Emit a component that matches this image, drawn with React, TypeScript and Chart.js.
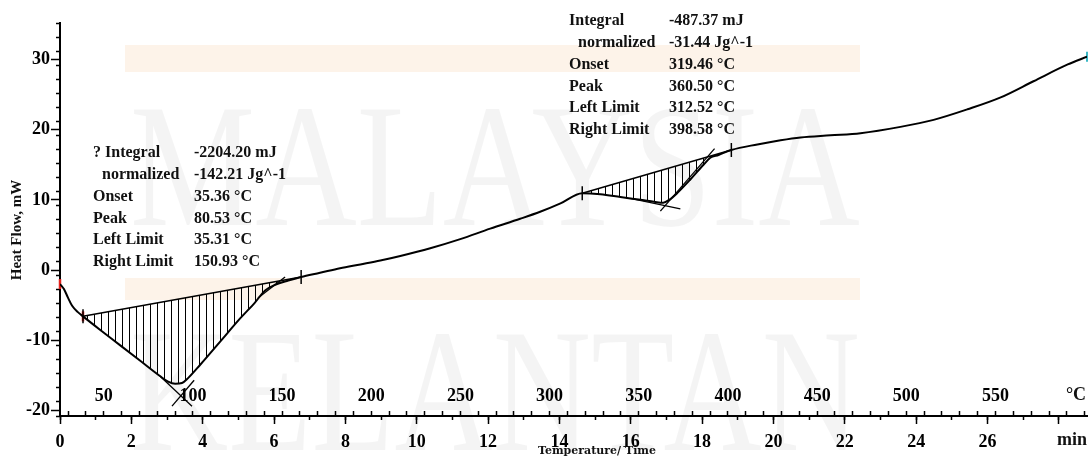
import React, { useEffect, useRef } from 'react';
import { Chart, registerables } from 'chart.js';

Chart.register(...registerables);

// ---- DSC curve: time (min) vs heat flow (mW) ----
const timeMin = [0, 0.11, 0.22, 0.34, 0.50, 0.645, 1.12, 1.68, 2.24, 2.80, 3.03, 3.23, 3.42, 3.59, 3.93, 4.49, 5.05, 5.47, 5.75, 6.03, 6.40, 6.76, 7.29, 7.85, 8.42, 8.98, 9.54, 10.38, 11.22, 12.06, 12.90, 13.46, 14.03, 14.64, 15.15, 15.71, 16.27, 16.69, 16.91, 17.08, 17.31, 17.67, 18.04, 18.23, 18.46, 18.82, 19.55, 20.20, 20.76, 21.60, 22.44, 23.56, 24.49, 25.44, 26.37, 27.29, 28.25, 28.79];
const heatFlow = [-2.0, -2.7, -3.9, -5.1, -6.0, -6.6, -8.5, -10.7, -12.9, -15.1, -15.9, -16.2, -16.1, -15.4, -13.5, -10.2, -6.9, -4.6, -2.9, -2.1, -1.5, -1.0, -0.4, 0.25, 0.8, 1.35, 2.0, 3.1, 4.4, 5.9, 7.3, 8.3, 9.5, 10.95, 10.8, 10.4, 10.0, 9.7, 9.6, 10.0, 11.0, 12.9, 15.0, 16.0, 16.4, 17.1, 17.9, 18.5, 18.9, 19.2, 19.5, 20.4, 21.4, 22.9, 24.6, 26.9, 29.3, 30.4];

// ---- integration baselines (left limit, right limit) ----
const peak1LimitT = [0.645, 6.76];
const peak1BaseV = [-6.6, -1.0];
const peak2LimitT = [14.64, 18.82];
const peak2BaseV = [10.95, 17.1];

// ---- tangent (onset) construction lines ----
const tangent1T = [2.80, 3.70];
const tangent1V = [-15.1, -19.4];
const tangent2T = [3.14, 3.76];
const tangent2V = [-19.4, -15.7];
const tangent3T = [5.55, 6.31];
const tangent3V = [-4.0, -1.0];
const tangent4T = [15.99, 17.39];
const tangent4V = [10.2, 8.7];
const tangent5T = [16.83, 18.35];
const tangent5V = [8.4, 17.3];

// ---- markers ----
const redMarkT = [0, 0.645];
const redMarkV = [-2.0, -6.6];
const limitMarkT = [0.645, 6.76, 14.64, 18.82];
const limitMarkV = [-6.6, -1.0, 10.95, 17.1];
const endMarkT = [28.79];
const endMarkV = [30.4];

// ---- axes ----
const Y_MIN = -20.8;
const Y_MAX = 35.2;
const T_MIN = 0;
const T_MAX = 28.79;
const TEMP_AT_START = 25.5; // °C at t = 0
const HEATING_RATE = 20; // °C / min
const yTickStep = 10;
const yMinorStep = 2;
const timeTickStep = 2;
const timeMinorStep = 1;
const timeLastLabel = 26;
const tempTickStep = 10;
const tempLabelStep = 50;

// ---- annotation texts ----
const peak1Labels = ['? Integral', 'normalized', 'Onset', 'Peak', 'Left Limit', 'Right Limit'];
const peak1Values = ['-2204.20 mJ', '-142.21 Jg^-1', '35.36 \u00B0C', '80.53 \u00B0C', '35.31 \u00B0C', '150.93 \u00B0C'];
const peak2Labels = ['Integral', 'normalized', 'Onset', 'Peak', 'Left Limit', 'Right Limit'];
const peak2Values = ['-487.37 mJ', '-31.44 Jg^-1', '319.46 \u00B0C', '360.50 \u00B0C', '312.52 \u00B0C', '398.58 \u00B0C'];
const yTitle = 'Heat Flow, mW';
const xTitle = 'Temperature/ Time';
const timeUnit = 'min';
const tempUnit = '\u00B0C';
const watermark = ['MALAYSIA', 'KELANTAN'];

const SERIF = "'Liberation Serif', 'Times New Roman', serif";

const pts = (ts: number[], vs: number[]) => ts.map((t, i) => ({ x: t, y: vs[i] }));

function makeHatch(): CanvasPattern | string {
  const c = document.createElement('canvas');
  c.width = 7;
  c.height = 7;
  const g = c.getContext('2d');
  if (!g) return 'rgba(0,0,0,0.3)';
  g.fillStyle = '#000';
  g.fillRect(3, 0, 1, 7);
  return g.createPattern(c, 'repeat') || 'rgba(0,0,0,0.3)';
}

const watermarkPlugin = {
  id: 'umkWatermark',
  beforeDraw(chart: any) {
    const ctx: CanvasRenderingContext2D = chart.ctx;
    ctx.save();
    ctx.fillStyle = '#fdf3e9';
    ctx.fillRect(125, 45, 735, 27);
    ctx.fillRect(125, 278, 735, 22);
    ctx.fillStyle = 'rgba(0,0,0,0.045)';
    ctx.textBaseline = 'alphabetic';
    ctx.textAlign = 'left';
    const baselines = [225, 450];
    watermark.forEach((word, i) => {
      ctx.font = `175px ${SERIF}`;
      const w = ctx.measureText(word).width;
      ctx.save();
      ctx.translate(130, baselines[i]);
      ctx.scale(730 / w, 1);
      ctx.fillText(word, 0, 0);
      ctx.restore();
    });
    ctx.restore();
  },
};

const textPlugin = {
  id: 'dscTexts',
  afterDraw(chart: any) {
    const ctx: CanvasRenderingContext2D = chart.ctx;
    ctx.save();
    ctx.fillStyle = '#111';
    ctx.textBaseline = 'middle';
    ctx.textAlign = 'left';
    ctx.font = `bold 16px ${SERIF}`;
    const block = (labels: string[], values: string[], xl: number, xv: number, y0: number, dy: number) => {
      labels.forEach((l, i) => {
        ctx.fillText(l, xl + (i === 1 ? 9 : 0), y0 + i * dy);
        ctx.fillText(values[i], xv, y0 + i * dy);
      });
    };
    block(peak1Labels, peak1Values, 93, 194, 153, 21.8);
    block(peak2Labels, peak2Values, 569, 669, 20.7, 21.9);

    // axis titles and units
    ctx.textAlign = 'center';
    ctx.font = `bold 15px ${SERIF}`;
    ctx.save();
    ctx.translate(17, 230);
    ctx.rotate(-Math.PI / 2);
    ctx.fillText(yTitle, 0, 0);
    ctx.restore();

    ctx.font = `bold 11px 'DejaVu Serif', serif`;
    ctx.fillText(xTitle, 597, 451);

    ctx.font = `bold 18px ${SERIF}`;
    ctx.fillText(timeUnit, 1072, 440);
    ctx.fillText(tempUnit, 1076, 395);
    ctx.restore();
  },
};

const noHPad = (s: any) => {
  s.paddingLeft = 0;
  s.paddingRight = 0;
};

export default function App() {
  const ref = useRef<HTMLCanvasElement>(null);

  useEffect(() => {
    document.body.style.margin = '0';
    const canvas = ref.current;
    if (!canvas) return;
    const hatch = makeHatch();
    const curve = pts(timeMin, heatFlow);
    const seg = (a: number, b: number) => curve.filter((p) => p.x >= a - 1e-9 && p.x <= b + 1e-9);
    const lineDs = (data: any[], width = 1.3) => ({
      data,
      borderColor: '#000',
      borderWidth: width,
      pointRadius: 0,
      fill: false,
      xAxisID: 'x',
      yAxisID: 'y',
    });
    const markerDs = (data: any[], color: string, radius: number, width: number) => ({
      data,
      showLine: false,
      pointStyle: 'line',
      pointRotation: 90,
      pointRadius: radius,
      pointBorderColor: color,
      pointBorderWidth: width,
      borderColor: color,
      clip: false,
      xAxisID: 'x',
      yAxisID: 'y',
    });
    const tickFont = { family: SERIF, size: 18, weight: 'bold' as const };

    const chart = new Chart(canvas, {
      type: 'line',
      data: {
        datasets: [
          {
            data: curve,
            borderColor: '#000',
            borderWidth: 2,
            pointRadius: 0,
            cubicInterpolationMode: 'monotone',
            fill: false,
            xAxisID: 'x',
            yAxisID: 'y',
          },
          {
            data: seg(peak1LimitT[0], peak1LimitT[1]),
            borderColor: 'rgba(0,0,0,0)',
            borderWidth: 0,
            pointRadius: 0,
            cubicInterpolationMode: 'monotone',
            fill: false,
            xAxisID: 'x',
            yAxisID: 'y',
          },
          {
            ...lineDs(pts(peak1LimitT, peak1BaseV), 1.5),
            fill: 1,
            backgroundColor: hatch,
          },
          {
            data: seg(peak2LimitT[0], peak2LimitT[1]),
            borderColor: 'rgba(0,0,0,0)',
            borderWidth: 0,
            pointRadius: 0,
            cubicInterpolationMode: 'monotone',
            fill: false,
            xAxisID: 'x',
            yAxisID: 'y',
          },
          {
            ...lineDs(pts(peak2LimitT, peak2BaseV), 1.5),
            fill: 3,
            backgroundColor: hatch,
          },
          lineDs(pts(tangent1T, tangent1V)),
          lineDs(pts(tangent2T, tangent2V)),
          lineDs(pts(tangent3T, tangent3V)),
          lineDs(pts(tangent4T, tangent4V)),
          lineDs(pts(tangent5T, tangent5V)),
          markerDs(pts(limitMarkT, limitMarkV), '#000', 7, 1.5),
          markerDs(pts(redMarkT, redMarkV), '#e3211c', 5, 2.5),
          markerDs(pts(endMarkT, endMarkV), '#3bb8c6', 5, 2),
        ] as any,
      },
      options: {
        responsive: false,
        animation: false,
        events: [],
        layout: { autoPadding: false, padding: { top: 23, right: 2, left: 0, bottom: 0 } },
        plugins: {
          legend: { display: false },
          tooltip: { enabled: false },
          title: { display: false },
        },
        scales: {
          x: {
            type: 'linear',
            position: 'bottom',
            min: T_MIN,
            max: T_MAX,
            afterFit: (s: any) => {
              s.height = 40;
              noHPad(s);
            },
            border: { display: true, color: '#000', width: 2 },
            grid: { display: true, drawOnChartArea: false, drawTicks: true, tickLength: 8, tickColor: '#000', tickWidth: 1.5 },
            ticks: {
              stepSize: timeTickStep,
              includeBounds: false,
              autoSkip: false,
              maxRotation: 0,
              color: '#000',
              padding: 8,
              font: tickFont,
              callback: (v: any) => (Number(v) <= timeLastLabel ? String(v) : ''),
            },
          },
          xMinor: {
            type: 'linear',
            position: { y: Y_MIN },
            min: T_MIN,
            max: T_MAX,
            afterFit: noHPad,
            border: { display: false },
            grid: { display: true, drawOnChartArea: false, drawTicks: true, tickLength: 4, tickColor: '#000', tickWidth: 1.5 },
            ticks: { stepSize: timeMinorStep, includeBounds: false, autoSkip: false, display: false },
          },
          xTemp: {
            type: 'linear',
            position: { y: Y_MIN },
            min: TEMP_AT_START + HEATING_RATE * T_MIN,
            max: TEMP_AT_START + HEATING_RATE * T_MAX,
            afterFit: noHPad,
            border: { display: false },
            grid: { display: true, drawOnChartArea: false, drawTicks: true, tickLength: -5, tickColor: '#000', tickWidth: 1.5 },
            ticks: {
              stepSize: tempTickStep,
              includeBounds: false,
              autoSkip: false,
              maxRotation: 0,
              color: '#000',
              padding: -25,
              font: tickFont,
              callback: (v: any) => {
                const n = Number(v);
                return n % tempLabelStep === 0 && n < 590 ? String(n) : '';
              },
            },
          },
          y: {
            type: 'linear',
            position: 'left',
            min: Y_MIN,
            max: Y_MAX,
            afterFit: (s: any) => {
              s.width = 60;
              s.paddingTop = 0;
              s.paddingBottom = 0;
            },
            border: { display: true, color: '#000', width: 2 },
            grid: { display: true, drawOnChartArea: false, drawTicks: true, tickLength: 9, tickColor: '#000', tickWidth: 1.5 },
            ticks: {
              stepSize: yTickStep,
              includeBounds: false,
              autoSkip: false,
              color: '#000',
              padding: 1,
              font: tickFont,
              callback: (v: any) => String(v),
            },
          },
          yMinor: {
            type: 'linear',
            position: { x: T_MIN },
            min: Y_MIN,
            max: Y_MAX,
            border: { display: false },
            grid: { display: true, drawOnChartArea: false, drawTicks: true, tickLength: 4, tickColor: '#000', tickWidth: 1.5 },
            ticks: { stepSize: yMinorStep, includeBounds: false, autoSkip: false, display: false },
          },
        } as any,
      },
      plugins: [watermarkPlugin, textPlugin],
    });
    return () => chart.destroy();
  }, []);

  return (
    <div style={{ width: 1089, height: 456, background: '#fff' }}>
      <canvas ref={ref} width={1089} height={456} style={{ display: 'block' }} />
    </div>
  );
}
